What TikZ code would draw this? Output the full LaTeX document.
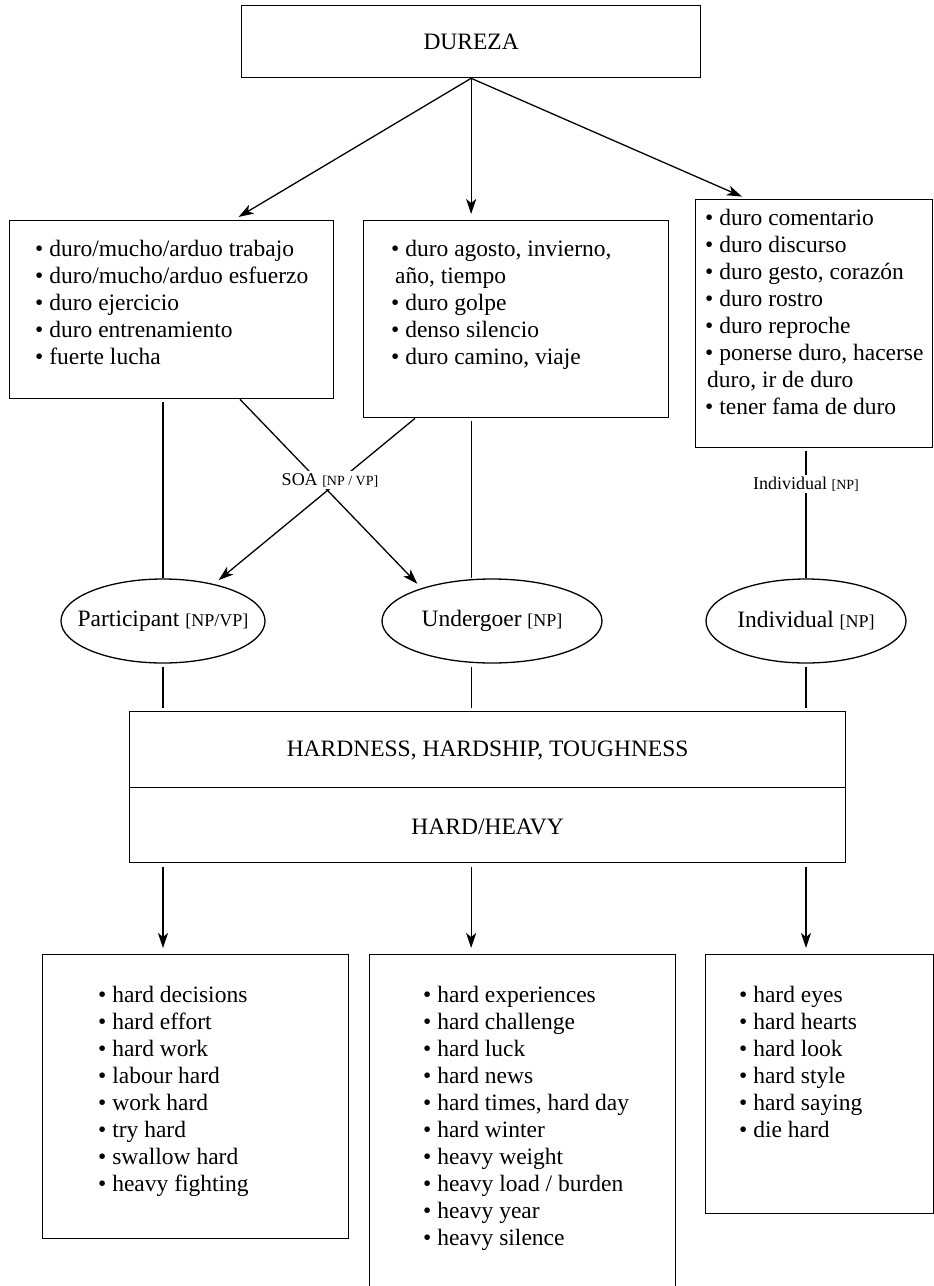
\documentclass[tikz,border=0pt]{standalone}
\usepackage{fontspec}
\setmainfont{Liberation Serif}
\usetikzlibrary{arrows.meta,shapes,calc,positioning}

\begin{document}
\begin{tikzpicture}[x=1pt,y=-1pt,
	every node/.style={font=\fontsize{23.5}{27}\selectfont},
	box/.style={draw, line width=1.3pt, anchor=north west, inner sep=0pt},
	listtext/.style={anchor=north west, align=left, inner sep=0pt},
	oval/.style={draw, ellipse, line width=1.3pt, inner sep=0pt},
	link/.style={line width=1.3pt, shorten <=3pt, shorten >=3pt},
	arr/.style={line width=1.3pt, shorten >=6pt, -{Stealth[length=15pt,width=10pt,inset=4pt]}},
	tag/.style={font=\fontsize{18}{20}\selectfont, fill=white, inner sep=2pt}]
	
	\useasboundingbox (0,0) rectangle (934,1286);
	
	% Spanish side
	\node[box, minimum width=459pt, minimum height=72pt] (dureza) at (241,5) {DUREZA};
	
	\node[box, minimum width=324pt, minimum height=178pt] (durobox) at (9,220) {};
	\node[listtext] (durotxt) at ([xshift=26pt, yshift=-20pt]durobox.north west)
	{\textbullet\ duro/mucho/arduo trabajo\\ \textbullet\ duro/mucho/arduo esfuerzo\\ \textbullet\ duro ejercicio\\ \textbullet\ duro entrenamiento\\ \textbullet\ fuerte lucha};
	
	\node[box, minimum width=305pt, minimum height=197pt] (golpebox) at (363,220) {};
	\node[listtext] (golpetxt) at ([xshift=28pt, yshift=-20pt]golpebox.north west)
	{\textbullet\ duro agosto, invierno,\\ \hspace*{4pt}año, tiempo\\ \textbullet\ duro golpe\\ \textbullet\ denso silencio\\ \textbullet\ duro camino, viaje};
	
	\node[box, minimum width=237pt, minimum height=248pt] (gestobox) at (695,199) {};
	\node[listtext] (gestotxt) at ([xshift=10pt, yshift=-10pt]gestobox.north west)
	{\textbullet\ duro comentario\\ \textbullet\ duro discurso\\ \textbullet\ duro gesto, corazón\\ \textbullet\ duro rostro\\ \textbullet\ duro reproche\\ \textbullet\ ponerse duro, hacerse\\ \hspace*{2pt}duro, ir de duro\\ \textbullet\ tener fama de duro};
	
	\draw[arr] (dureza.south) -- ($(durobox.north west)!0.69!(durobox.north east)$);
	\draw[arr] (dureza.south) -- (dureza.south |- golpebox.north);
	\draw[arr] (dureza.south) -- ($(gestobox.north west)!0.22!(gestobox.north east)$);
	
	% roles
	\node[oval, minimum width=204pt, minimum height=84pt] (part) at (163,621) {};
	\node (parttxt) at (part.center) {Participant {\fontsize{18}{20}\selectfont[NP/VP]}};
	\node[oval, minimum width=220pt, minimum height=84pt] (under) at (492,621) {};
	\node (undertxt) at (under.center) {Undergoer {\fontsize{18}{20}\selectfont[NP]}};
	\node[oval, minimum width=200pt, minimum height=84pt] (indiv) at (806,621) {};
	\node (indivtxt) at (indiv.center) {Individual {\fontsize{18}{20}\selectfont[NP]}};
	
	\draw[link, shorten >=0pt] (durobox.south -| part.north) -- (part.north);
	\draw[link, shorten >=0pt] (golpebox.south -| dureza.south) -- (under.north -| dureza.south);
	\draw[link, shorten >=0pt] (gestobox.south -| indiv.north) -- (indiv.north);
	\draw[arr] ($(durobox.south west)!0.71!(durobox.south east)$) -- (under.155);
	\draw[arr] ($(golpebox.south west)!0.17!(golpebox.south east)$) -- (part.36);
	
	\node[tag] (soa) at (330,480) {SOA {\fontsize{14}{16}\selectfont[NP / VP]}};
	\node[tag] (indivtag) at (806,484) {Individual {\fontsize{14}{16}\selectfont[NP]}};
	
	% English side
	\node[box, minimum width=716pt, minimum height=151pt] (hard) at (129,711) {};
	\draw[line width=1.3pt] ($(hard.north west)!0.503!(hard.south west)$) -- ($(hard.north east)!0.503!(hard.south east)$);
	\node (hardtop) at ($(hard.north)!0.26!(hard.south)$) {HARDNESS, HARDSHIP, TOUGHNESS};
	\node (hardbot) at ($(hard.north)!0.76!(hard.south)$) {HARD/HEAVY};
	
	\draw[link] (part.south) -- (hard.north -| part.south);
	\draw[link] (under.south -| dureza.south) -- (hard.north -| dureza.south);
	\draw[link] (indiv.south) -- (hard.north -| indiv.south);
	
	\node[box, minimum width=306pt, minimum height=284pt] (decbox) at (42,954) {};
	\node[listtext] (dectxt) at ([xshift=56pt, yshift=-32pt]decbox.north west)
	{\textbullet\ hard decisions\\ \textbullet\ hard effort\\ \textbullet\ hard work\\ \textbullet\ labour hard\\ \textbullet\ work hard\\ \textbullet\ try hard\\ \textbullet\ swallow hard\\ \textbullet\ heavy fighting};
	
	\node[box, minimum width=306pt, minimum height=345pt] (expbox) at (369,954) {};
	\node[listtext] (exptxt) at ([xshift=54pt, yshift=-32pt]expbox.north west)
	{\textbullet\ hard experiences\\ \textbullet\ hard challenge\\ \textbullet\ hard luck\\ \textbullet\ hard news\\ \textbullet\ hard times, hard day\\ \textbullet\ hard winter\\ \textbullet\ heavy weight\\ \textbullet\ heavy load / burden\\ \textbullet\ heavy year\\ \textbullet\ heavy silence};
	
	\node[box, minimum width=228pt, minimum height=259pt] (eyebox) at (705,954) {};
	\node[listtext] (eyetxt) at ([xshift=34pt, yshift=-32pt]eyebox.north west)
	{\textbullet\ hard eyes\\ \textbullet\ hard hearts\\ \textbullet\ hard look\\ \textbullet\ hard style\\ \textbullet\ hard saying\\ \textbullet\ die hard};
	
	\draw[arr, shorten <=4pt] (hard.south -| part.south) -- (decbox.north -| part.south);
	\draw[arr, shorten <=4pt] (hard.south -| dureza.south) -- (expbox.north -| dureza.south);
	\draw[arr, shorten <=4pt] (hard.south -| indiv.south) -- (eyebox.north -| indiv.south);
\end{tikzpicture}
\end{document}
